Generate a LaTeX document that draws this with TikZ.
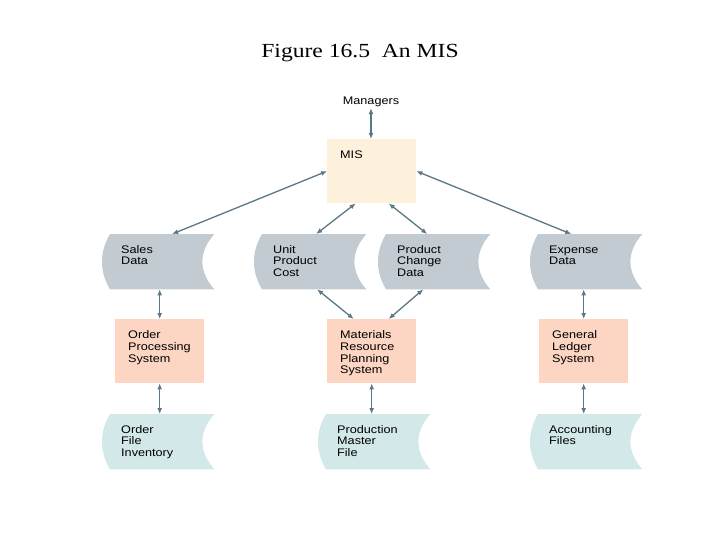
\documentclass[tikz,border=0pt]{standalone}
\usepackage{fontspec}
\setmainfont{Liberation Sans}
\usepackage{tikz}
\usetikzlibrary{calc,backgrounds,arrows.meta}
\newfontfamily\titlefont[FakeStretch=1.18]{Liberation Serif}
\newfontfamily\boxfont[FakeStretch=1.15]{Liberation Sans}
\definecolor{datagray}{HTML}{C1CBD1}
\definecolor{filecyan}{HTML}{D3E8E8}
\definecolor{syssalmon}{HTML}{FDD5C3}
\definecolor{mispeach}{HTML}{FEF1DC}
\definecolor{linkcolor}{HTML}{5C7786}
\newcommand{\bulge}{8}
\newcommand{\hollow}{16}
% stored data outline behind a named node
\newcommand{\datashape}[2]{
\fill[#2] ($(#1.north west)+(\bulge,0)$) -- (#1.north east)
  .. controls ($(#1.north east)+(-\hollow,18)$) and ($(#1.south east)+(-\hollow,-18)$) .. (#1.south east)
  -- ($(#1.south west)+(\bulge,0)$)
  .. controls ($(#1.south west)+(-2.7,-18)$) and ($(#1.north west)+(-2.7,18)$) .. cycle;
}
\tikzset{
  datanode/.style={anchor=north west, inner ysep=0pt, inner xsep=19pt, text width=74pt, align=left,
    text height=19pt, text depth=36pt, font=\boxfont\fontsize{11}{11.7}\selectfont},
  sysbox/.style={anchor=north west, inner ysep=0pt, inner xsep=13pt, text width=63pt, align=left,
    text height=19.5pt, text depth=44.5pt, font=\boxfont\fontsize{11}{11.7}\selectfont},
  link/.style={draw=linkcolor, line width=1.3pt, {Latex[length=6pt,width=5pt]}-{Latex[length=6pt,width=5pt]}}
}
\begin{document}
\begin{tikzpicture}[x=1pt,y=-1pt]
\useasboundingbox (0,0) rectangle (720,540);
\node[anchor=base, font=\titlefont\fontsize{20}{24}\selectfont] (title) at (360,58) {Figure 16.5\ \ An MIS};
\node[font=\boxfont\fontsize{11}{11.7}\selectfont, inner sep=1pt] (man) at (371,102) {Managers};
\node[sysbox, fill=mispeach] (mis) at (327,139) {MIS};
%row of data
\node[datanode] (sales) at (102,234) {Sales\\Data};
\node[datanode] (unit) at (254,234) {Unit\\Product\\Cost};
\node[datanode] (change) at (378,234) {Product\\Change\\Data};
\node[datanode] (expense) at (530,234) {Expense\\Data};
%systems
\node[sysbox, fill=syssalmon] (ops) at (115,319) {Order\\Processing\\System};
\node[sysbox, fill=syssalmon] (mrp) at (327,319) {Materials\\Resource\\Planning\\System};
\node[sysbox, fill=syssalmon] (gl) at (539,319) {General\\Ledger\\System};
%files
\node[datanode] (orderfile) at (102,414) {Order\\File\\Inventory};
\node[datanode] (master) at (318,414) {Production\\Master\\File};
\node[datanode] (accfiles) at (530,414) {Accounting\\Files};
\begin{scope}[on background layer]
\datashape{sales}{datagray}
\datashape{unit}{datagray}
\datashape{change}{datagray}
\datashape{expense}{datagray}
\datashape{orderfile}{filecyan}
\datashape{master}{filecyan}
\datashape{accfiles}{filecyan}
\end{scope}
\draw[link] (man.south) -- (man.south |- mis.north);
\draw[link] (mis.west) -- ([xshift=14pt]sales.north);
\draw[link] ([xshift=-16pt]mis.south) -- ([xshift=6pt]unit.north);
\draw[link] ([xshift=17pt]mis.south) -- ([xshift=-7pt]change.north);
\draw[link] (mis.east) -- ([xshift=-15pt]expense.north);
\draw[link] (ops.north |- sales.south) -- (ops.north);
\draw[link] ([xshift=7pt]unit.south) -- ([xshift=-18pt]mrp.north);
\draw[link] ([xshift=-11pt]change.south) -- ([xshift=17pt]mrp.north);
\draw[link] (gl.north |- expense.south) -- (gl.north);
\draw[link] (ops.south) -- (ops.south |- orderfile.north);
\draw[link] (mrp.south) -- (mrp.south |- master.north);
\draw[link] (gl.south) -- (gl.south |- accfiles.north);
\end{tikzpicture}
\end{document}
